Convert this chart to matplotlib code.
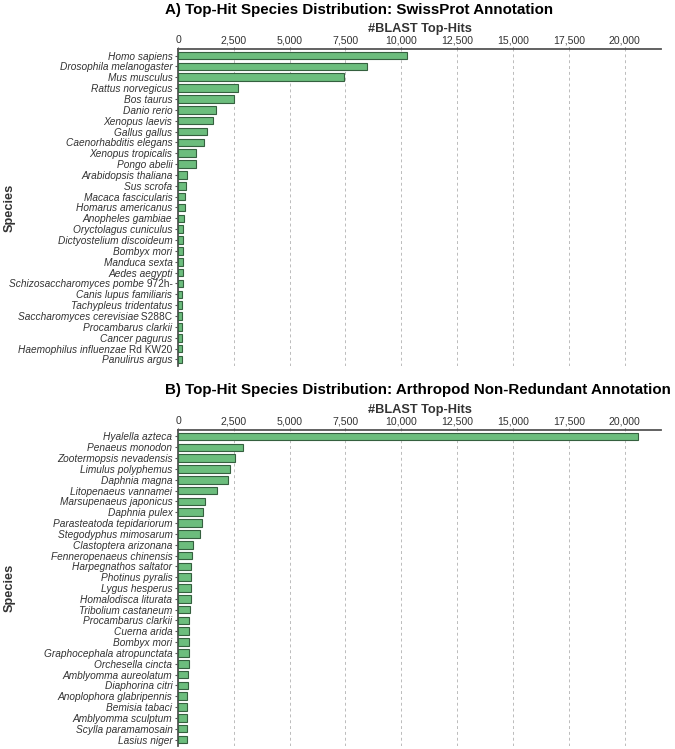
import matplotlib.pyplot as plt
from matplotlib import transforms
from matplotlib.ticker import FuncFormatter, MultipleLocator

plt.rcParams["font.family"] = ["Liberation Sans", "DejaVu Sans"]

# Panel A: SwissProt top-hit species
swiss_species = [
    "Homo sapiens", "Drosophila melanogaster", "Mus musculus", "Rattus norvegicus",
    "Bos taurus", "Danio rerio", "Xenopus laevis", "Gallus gallus",
    "Caenorhabditis elegans", "Xenopus tropicalis", "Pongo abelii",
    "Arabidopsis thaliana", "Sus scrofa", "Macaca fascicularis", "Homarus americanus",
    "Anopheles gambiae", "Oryctolagus cuniculus", "Dictyostelium discoideum",
    "Bombyx mori", "Manduca sexta", "Aedes aegypti", "Schizosaccharomyces pombe 972h-",
    "Canis lupus familiaris", "Tachypleus tridentatus", "Saccharomyces cerevisiae S288C",
    "Procambarus clarkii", "Cancer pagurus", "Haemophilus influenzae Rd KW20",
    "Panulirus argus",
]
swiss_hits = [
    10250, 8480, 7430, 2670, 2490, 1680, 1545, 1305, 1170, 825, 810,
    385, 375, 330, 300, 270, 240, 240, 225, 210, 210, 210,
    200, 200, 200, 195, 190, 190, 160,
]

# Panel B: Arthropod NR top-hit species
arth_species = [
    "Hyalella azteca", "Penaeus monodon", "Zootermopsis nevadensis",
    "Limulus polyphemus", "Daphnia magna", "Litopenaeus vannamei",
    "Marsupenaeus japonicus", "Daphnia pulex", "Parasteatoda tepidariorum",
    "Stegodyphus mimosarum", "Clastoptera arizonana", "Fenneropenaeus chinensis",
    "Harpegnathos saltator", "Photinus pyralis", "Lygus hesperus",
    "Homalodisca liturata", "Tribolium castaneum", "Procambarus clarkii",
    "Cuerna arida", "Bombyx mori", "Graphocephala atropunctata", "Orchesella cincta",
    "Amblyomma aureolatum", "Diaphorina citri", "Anoplophora glabripennis",
    "Bemisia tabaci", "Amblyomma sculptum", "Scylla paramamosain", "Lasius niger",
]
arth_hits = [
    20600, 2925, 2550, 2325, 2250, 1755, 1215, 1125, 1065, 975, 675, 615,
    600, 600, 585, 570, 540, 510, 495, 495, 480, 480, 465, 435, 420,
    405, 390, 390, 390,
]

FIG_W, FIG_H = 675, 749
BAR_FILL = "#6cbd7d"
BAR_EDGE = "#35603f"
AXIS_GREY = "#555555"
TEXT_GREY = "#333333"
LABEL_SIZE = 7.3
YTICK_LEN, YTICK_PAD = 2.5, 1.5
STRAIN_TAILS = (" 972h-", " S288C", " Rd KW20")
XMAX = max(max(swiss_hits), max(arth_hits)) * 1.05

fig = plt.figure(figsize=(FIG_W / 100, FIG_H / 100), dpi=100)
renderer = fig.canvas.get_renderer()


def px_axes(left, top, right, bottom):
    return fig.add_axes([left / FIG_W, 1 - bottom / FIG_H,
                         (right - left) / FIG_W, (bottom - top) / FIG_H])


def split_strain(name):
    for tail in STRAIN_TAILS:
        if name.endswith(tail):
            return name[: -len(tail)], tail
    return name, ""


def strain_label(ax, y, head, tail):
    # italic species name followed by an upright strain designation
    offset = -(YTICK_LEN + YTICK_PAD) * fig.dpi / 72
    base = ax.get_yaxis_transform()
    t_tail = ax.text(0, y, tail, fontsize=LABEL_SIZE, color=TEXT_GREY,
                     ha="right", va="center_baseline",
                     transform=transforms.offset_copy(base, fig, x=offset, units="dots"))
    width = t_tail.get_window_extent(renderer).width
    ax.text(0, y, head, fontsize=LABEL_SIZE, color=TEXT_GREY, style="italic",
            ha="right", va="center_baseline",
            transform=transforms.offset_copy(base, fig, x=offset - width, units="dots"))


def draw_panel(ax, species, hits, title, title_y):
    pos = list(range(len(species)))
    ax.barh(pos, hits, height=0.7, color=BAR_FILL, edgecolor=BAR_EDGE,
            linewidth=0.8, zorder=3)
    ax.set_ylim(len(species) - 0.4, -0.6)
    ax.set_xlim(0, XMAX)
    ax.set_yticks(pos)
    parts = [split_strain(s) for s in species]
    ax.set_yticklabels([h if not t else "" for h, t in parts],
                       fontsize=LABEL_SIZE, color=TEXT_GREY, style="italic")
    for y, (head, tail) in zip(pos, parts):
        if tail:
            strain_label(ax, y, head, tail)
    ax.xaxis.tick_top()
    ax.xaxis.set_label_position("top")
    ax.xaxis.set_major_locator(MultipleLocator(2500))
    ax.xaxis.set_major_formatter(FuncFormatter(lambda v, p: f"{int(v):,}"))
    ax.tick_params(axis="x", labelsize=7.6, labelcolor=TEXT_GREY,
                   color=AXIS_GREY, length=1.8, width=0.8, pad=1)
    ax.tick_params(axis="y", length=YTICK_LEN, width=0.8, pad=YTICK_PAD,
                   color=AXIS_GREY, labelcolor=TEXT_GREY)
    ax.set_xlabel("#BLAST Top-Hits", fontsize=9.2, fontweight="bold",
                  color=TEXT_GREY, labelpad=2)
    ax.set_ylabel("Species", fontsize=9.2, fontweight="bold", color=TEXT_GREY)
    ax.yaxis.set_label_coords(-0.337, 0.5)
    ax.grid(axis="x", color="#bbbbbb", linestyle=(0, (3, 3)), linewidth=0.7,
            zorder=0)
    for side in ("right", "bottom"):
        ax.spines[side].set_visible(False)
    for side in ("top", "left"):
        ax.spines[side].set_color(AXIS_GREY)
        ax.spines[side].set_linewidth(1.3)
    fig.text(165 / FIG_W, 1 - title_y / FIG_H, title, fontsize=10.9,
             fontweight="bold", ha="left", va="center", color="black")


ax_a = px_axes(178, 49, 661, 366)
draw_panel(ax_a, swiss_species, swiss_hits,
           "A) Top-Hit Species Distribution: SwissProt Annotation", 10)
ax_b = px_axes(178, 430, 661, 746)
draw_panel(ax_b, arth_species, arth_hits,
           "B) Top-Hit Species Distribution: Arthropod Non-Redundant Annotation", 390)

fig.savefig("out.png", dpi=100)
